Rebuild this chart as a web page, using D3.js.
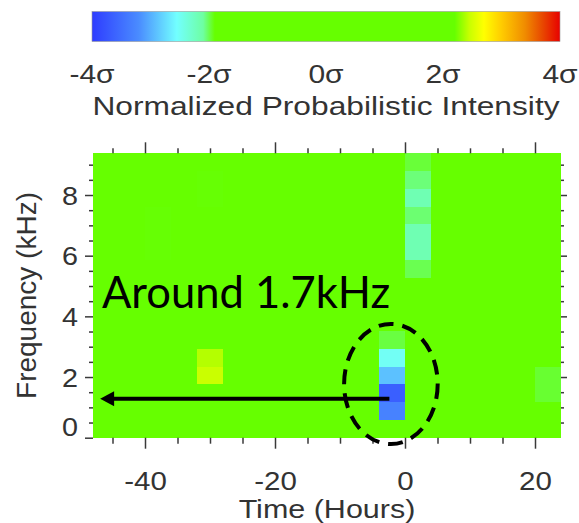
<!DOCTYPE html>
<html>
<head>
<meta charset="utf-8">
<script src="https://cdn.jsdelivr.net/npm/d3@7"></script>
<style>
  body { margin: 0; background: #fff; }
  svg { display: block; }
  .tick line { stroke: #3a3a3a; stroke-width: 1.5; }
</style>
</head>
<body>
<svg id="chart" width="579" height="523"></svg>
<script>
// ---- data ----
// time bins: 4-hour bins from -48 h to +24 h
const timeRange = [-48, 24];
const binHours = 4;
// frequency bins: 16 bins of 0.586 kHz covering 0 - 9.375 kHz
const freqBinCount = 16;
const freqBinKHz = 0.5859375;
// cells that deviate from the background: [bin start (h), frequency bin index, sigma]
const anomalyCells = [
  [-4, 1, -3.3], [-4, 2, -3.65], [-4, 3, -2.9], [-4, 4, -2.5], [-4, 5, -1.98],
  [0, 9, -2.0], [0, 10, -2.18], [0, 11, -2.18], [0, 12, -2.04], [0, 13, -2.18],
  [0, 14, -2.05], [0, 15, -1.97],
  [-32, 3, 2.46], [-32, 4, 2.4],
  [20, 2, -1.96], [20, 3, -1.96],
  [-40, 10, -1.905], [-40, 11, -1.905], [-40, 12, -1.905], [-32, 13, -1.905], [-32, 14, -1.905]
];
// colour map: sigma stops and their colours
const sigmaStops = [-4, -3.2, -2.55, -2.1, -1.9, 2.2, 2.45, 2.7, 3.0, 3.4, 3.7, 4];
const stopColors = ["#2e3cff", "#4a8cff", "#72ffff", "#6effa2", "#66ff00", "#66ff00",
                    "#c8ff00", "#ffff00", "#ffcc00", "#f08c00", "#e84800", "#e80000"];
const sigmaTicks = [-4, -2, 0, 2, 4];
const sigmaTickLabels = ["-4σ", "-2σ", "0σ", "2σ", "4σ"];
const xMajorTicks = [-40, -20, 0, 20];
const xMinorTicks = [-45, -35, -30, -25, -15, -10, -5, 5, 10, 15];
const yMajorTicks = [0, 2, 4, 6, 8];
const yMinorTicks = [0.5, 1, 1.5, 2.5, 3, 3.5, 4.5, 5, 5.5, 6.5, 7, 7.5, 8.5, 9];
// annotation: arrow from the cluster to the frequency axis, and the ring around the cluster
const arrowFrom = [-2.4, 1.28];
const arrowTo = [-46.9, 1.28];
const ringCenter = [-2.17, 1.77];
const ringRadius = [7.2, 1.98]; // hours, kHz
const noteText = "Around 1.7kHz";

// ---- layout ----
const svg = d3.select("#chart");
const x = d3.scaleLinear().domain(timeRange).range([93, 561]);
const y = d3.scaleLinear().domain([0, freqBinCount * freqBinKHz]).range([437.7, 153.3]);
const color = d3.scaleLinear().domain(sigmaStops).range(stopColors).clamp(true);
const cbX = d3.scaleLinear().domain([-4, 4]).range([92, 560]);
const textColor = "#333";
const FONT = "'Liberation Sans', Arial, Helvetica, sans-serif";
const plain = d => String(d); // hyphen-minus, as in the printed figure

// horizontally widened text, anchored at its own x
function widen(sel, s) {
  sel.each(function () {
    const t = d3.select(this);
    const ax = +t.attr("x") || 0;
    t.attr("transform", `translate(${ax * (1 - s)},0) scale(${s},1)`);
  });
}

// ---- colour bar ----
const defs = svg.append("defs");
const grad = defs.append("linearGradient").attr("id", "cbGrad")
  .attr("x1", "0%").attr("x2", "100%").attr("y1", "0%").attr("y2", "0%");
grad.selectAll("stop").data(sigmaStops).join("stop")
  .attr("offset", d => ((d + 4) / 8 * 100) + "%")
  .attr("stop-color", d => color(d));
svg.append("rect")
  .attr("x", cbX(-4)).attr("y", 11.5)
  .attr("width", cbX(4) - cbX(-4)).attr("height", 30)
  .attr("fill", "url(#cbGrad)")
  .attr("stroke", "#9a9a9a").attr("stroke-width", 0.6);
const cbLabels = svg.append("g").selectAll("text").data(sigmaTicks).join("text")
  .attr("x", d => cbX(d)).attr("y", 83)
  .attr("text-anchor", "middle")
  .attr("font-family", FONT).attr("font-size", 25).attr("fill", textColor)
  .text((d, i) => sigmaTickLabels[i]);
widen(cbLabels, 1.2);
const cbTitle = svg.append("text")
  .attr("x", cbX(0)).attr("y", 115)
  .attr("text-anchor", "middle")
  .attr("font-family", FONT).attr("font-size", 26).attr("fill", textColor)
  .text("Normalized Probabilistic Intensity");
widen(cbTitle, 1.22);

// ---- heat map cells ----
const lookup = new Map(anomalyCells.map(d => [d[0] + "|" + d[1], d[2]]));
const grid = [];
for (let t = timeRange[0]; t < timeRange[1]; t += binHours) {
  for (let j = 0; j < freqBinCount; j++) {
    grid.push({ t, j, v: lookup.has(t + "|" + j) ? lookup.get(t + "|" + j) : 0 });
  }
}
svg.append("g").attr("shape-rendering", "crispEdges")
  .selectAll("rect").data(grid).join("rect")
  .attr("x", d => x(d.t))
  .attr("width", d => x(d.t + binHours) - x(d.t))
  .attr("y", d => y((d.j + 1) * freqBinKHz))
  .attr("height", d => y(d.j * freqBinKHz) - y((d.j + 1) * freqBinKHz))
  .attr("fill", d => color(d.v));

// ---- axes ----
const H = 437.7, T = 153.3, L = 93, R = 561;
function styleAxis(g) { g.select(".domain").remove(); }

svg.append("g").attr("transform", `translate(0,${H})`)
  .call(d3.axisBottom(x).tickValues(xMinorTicks).tickSize(6).tickFormat("")).call(styleAxis);
const xMaj = svg.append("g").attr("transform", `translate(0,${H})`)
  .call(d3.axisBottom(x).tickValues(xMajorTicks).tickSize(11).tickFormat(plain))
  .call(styleAxis);
xMaj.selectAll("text").attr("y", 52).attr("dy", null)
  .attr("font-family", FONT).attr("font-size", 25).attr("fill", textColor);
widen(xMaj.selectAll("text"), 1.18);

svg.append("g").attr("transform", `translate(0,${T})`)
  .call(d3.axisTop(x).tickValues(xMinorTicks).tickSize(5).tickFormat("")).call(styleAxis);
svg.append("g").attr("transform", `translate(0,${T})`)
  .call(d3.axisTop(x).tickValues(xMajorTicks).tickSize(11).tickFormat("")).call(styleAxis);

svg.append("g").attr("transform", `translate(${L},0)`)
  .call(d3.axisLeft(y).tickValues(yMinorTicks).tickSize(4).tickFormat("")).call(styleAxis);
const yMaj = svg.append("g").attr("transform", `translate(${L},0)`)
  .call(d3.axisLeft(y).tickValues(yMajorTicks).tickSize(8).tickFormat(plain))
  .call(styleAxis);
yMaj.selectAll("text").attr("x", -15).attr("dy", "0.36em")
  .attr("font-family", FONT).attr("font-size", 25).attr("fill", textColor);
// lowest label sits just above the corner
yMaj.selectAll(".tick").filter(d => d === 0).select("text").attr("dy", "-0.08em");
widen(yMaj.selectAll("text"), 1.15);

svg.append("g").attr("transform", `translate(${R},0)`)
  .call(d3.axisRight(y).tickValues(yMinorTicks).tickSize(3).tickFormat("")).call(styleAxis);
svg.append("g").attr("transform", `translate(${R},0)`)
  .call(d3.axisRight(y).tickValues(yMajorTicks.filter(d => d > 0)).tickSize(6).tickFormat(""))
  .call(styleAxis);

// axis titles
const xTitle = svg.append("text")
  .attr("x", (L + R) / 2).attr("y", 518)
  .attr("text-anchor", "middle")
  .attr("font-family", FONT).attr("font-size", 25).attr("fill", textColor)
  .text("Time (Hours)");
widen(xTitle, 1.22);
svg.append("text")
  .attr("transform", `translate(36,${(T + H) / 2}) rotate(-90)`)
  .attr("text-anchor", "middle")
  .attr("font-family", FONT).attr("font-size", 28).attr("fill", textColor)
  .text("Frequency (kHz)");

// ---- annotation ----
const ax0 = x(arrowFrom[0]), ay = y(arrowFrom[1]), ax1 = x(arrowTo[0]);
svg.append("line")
  .attr("x1", ax0).attr("y1", ay).attr("x2", ax1 + 10).attr("y2", ay)
  .attr("stroke", "#000").attr("stroke-width", 4);
svg.append("path")
  .attr("d", `M${ax1},${ay} L${ax1 + 14},${ay - 7.5} L${ax1 + 14},${ay + 7.5} Z`)
  .attr("fill", "#000");
svg.append("ellipse")
  .attr("cx", x(ringCenter[0])).attr("cy", y(ringCenter[1]))
  .attr("rx", x(ringCenter[0] + ringRadius[0]) - x(ringCenter[0]))
  .attr("ry", y(ringCenter[1] - ringRadius[1]) - y(ringCenter[1]))
  .attr("fill", "none").attr("stroke", "#000").attr("stroke-width", 4)
  .attr("stroke-dasharray", "15 9");
svg.append("text")
  .attr("x", 102).attr("y", 307.5)
  .attr("font-family", "Lato, 'Open Sans', sans-serif").attr("font-size", 43.5)
  .attr("fill", "#000")
  .text(noteText);
</script>
</body>
</html>
